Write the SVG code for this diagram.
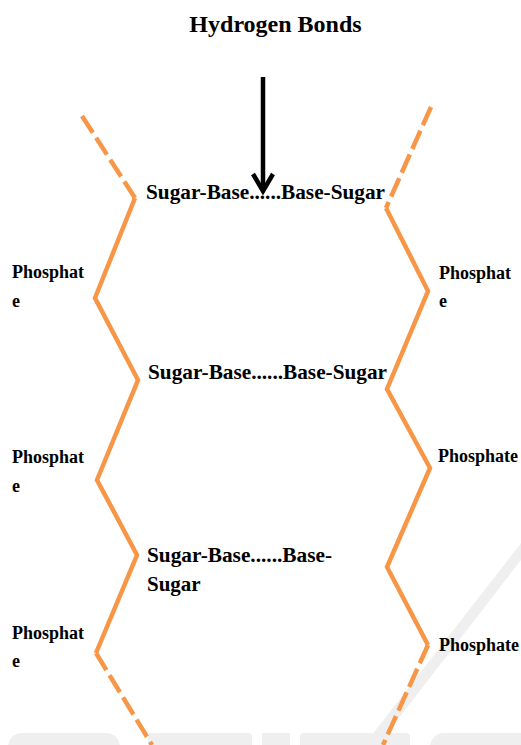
<svg xmlns="http://www.w3.org/2000/svg" width="521" height="745" viewBox="0 0 521 745">
<style>
.t{font-family:"Liberation Serif","Times New Roman",serif;font-weight:bold;fill:#000}
.h{font-size:24px}
.s{font-size:21px}
.p{font-size:18px}
.strand{fill:none;stroke:#F79646;stroke-width:4.5;stroke-linejoin:miter}
.dash{stroke-dasharray:20 6}
.wm{fill:#efefef}
</style>
<rect width="521" height="745" fill="#fff"/>
<g id="watermark">
<path d="M364,745 L521,543 L521,560 L378,745 Z" class="wm"/>
<rect x="8" y="733" width="112" height="30" rx="14" class="wm"/>
<rect x="148" y="733" width="104" height="30" rx="4" class="wm"/>
<rect x="262" y="733" width="28" height="30" class="wm"/>
<rect x="300" y="733" width="110" height="30" rx="4" class="wm"/>
<rect x="430" y="733" width="110" height="30" rx="14" class="wm"/>
</g>
<g id="title"><text class="t h" x="275.5" y="32" text-anchor="middle">Hydrogen Bonds</text></g>
<g id="connectors">
<path class="strand dash" d="M82,116 L135,198"/>
<path class="strand" d="M135,198 L95,298 L138,380 L97,480 L137,555 L96,653"/>
<path class="strand dash" d="M96,653 L152,745"/>
<path class="strand dash" d="M431,107 L386,208"/>
<path class="strand" d="M386,208 L428,291 L387,389 L430,468 L387,567 L428,645"/>
<path class="strand dash" d="M428,645 L383,745"/>
<g id="arrow" fill="none" stroke="#000" stroke-width="4.5">
<line x1="263" y1="77" x2="263" y2="191"/>
<polyline points="253,174 263,191 273,174" stroke-linejoin="miter"/>
</g>
</g>
<g id="pair1"><text class="t s" x="146" y="199" textLength="239" lengthAdjust="spacingAndGlyphs">Sugar-Base......Base-Sugar</text></g>
<g id="pair2"><text class="t s" x="148" y="379" textLength="239" lengthAdjust="spacingAndGlyphs">Sugar-Base......Base-Sugar</text></g>
<g id="pair3"><text class="t s" x="147" y="562" textLength="185" lengthAdjust="spacingAndGlyphs">Sugar-Base......Base-</text><text class="t s" x="147" y="591">Sugar</text></g>
<g id="phosL1"><text class="t p" x="12" y="278">Phosphat</text><text class="t p" x="12" y="307">e</text></g>
<g id="phosL2"><text class="t p" x="12" y="463">Phosphat</text><text class="t p" x="12" y="492">e</text></g>
<g id="phosL3"><text class="t p" x="12" y="639">Phosphat</text><text class="t p" x="12" y="667">e</text></g>
<g id="phosR1"><text class="t p" x="439" y="279">Phosphat</text><text class="t p" x="439" y="307">e</text></g>
<g id="phosR2"><text class="t p" x="438" y="462">Phosphate</text></g>
<g id="phosR3"><text class="t p" x="439" y="651">Phosphate</text></g>
</svg>
